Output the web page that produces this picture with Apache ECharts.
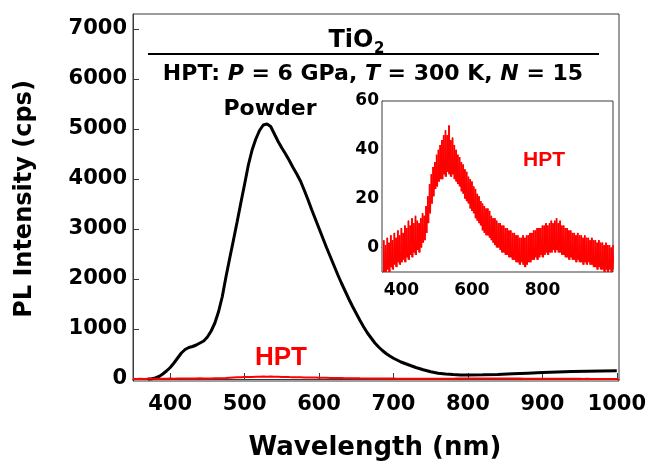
<!DOCTYPE html>
<html>
<head>
<meta charset="utf-8">
<script src="https://cdn.jsdelivr.net/npm/echarts@6/dist/echarts.min.js"></script>
<style>html,body{margin:0;padding:0;background:#fff}#c{width:649px;height:464px}</style>
</head>
<body>
<div id="c"></div>
<script>
// Powder PL spectrum (wavelength nm, intensity cps)
const powderWl = [370,375,380,385,390,395,400,405,410,415,420,425,430,435,440,445,450,455,460,465,470,475,480,485,490,495,500,505,510,515,520,525,530,535,540,545,550,555,560,565,570,575,580,585,590,595,600,605,610,615,620,625,630,635,640,645,650,655,660,665,670,675,680,685,690,695,700,710,720,730,740,750,760,770,780,790,800,820,840,860,880,900,920,940,960,980,1000];
const powderVal = [0,5,20,50,100,160,230,320,420,520,590,630,650,680,720,760,840,960,1120,1350,1650,2050,2420,2780,3150,3530,3900,4280,4580,4800,4970,5080,5100,5050,4900,4750,4620,4500,4370,4230,4100,3960,3780,3590,3390,3200,3010,2820,2630,2450,2270,2090,1920,1760,1600,1450,1310,1170,1040,920,820,720,640,570,510,460,415,340,285,230,185,145,115,100,88,82,80,84,92,104,116,128,138,148,156,162,165];
// HPT PL spectrum: upper / lower envelope of the noisy trace, every 5 nm from 350 to 1000
const hptStart = 350, hptStep = 5;
const hptUpper = [3,1,4,2,5,3,6,4,7,5,8,6,9,8,11,9,12,10,13,11,10,12,14,13,17,21,26,30,33,35,38,40,42,44,46,48,46,50,44,45,42,40,38,37,35,34,32,31,29,28,27,25,24,22,21,19,18,17,16,16,15,13,12,12,11,10,10,9,9,8,8,7,7,6,6,5,5,4,4,5,4,5,5,6,6,7,7,8,8,8,9,9,10,9,10,11,10,11,12,10,11,9,9,8,8,7,7,6,6,5,6,5,5,4,5,4,4,3,4,3,3,2,3,2,2,1,2,1,1,0,1];
const hptLower = [-10,-10,-9,-10,-8,-9,-7,-8,-6,-7,-6,-5,-6,-4,-5,-3,-4,-2,-3,-1,-2,0,2,3,6,10,14,18,21,24,25,27,28,28,30,29,31,30,29,30,28,27,26,25,23,22,20,19,18,16,15,14,12,11,10,9,7,6,5,5,4,3,2,1,0,0,-1,-2,-2,-3,-3,-4,-4,-5,-5,-6,-6,-7,-6,-7,-8,-7,-6,-6,-5,-5,-4,-5,-4,-3,-4,-3,-2,-3,-2,-2,-1,-2,-1,-2,-2,-3,-3,-4,-4,-5,-4,-5,-5,-6,-5,-6,-6,-7,-6,-7,-6,-7,-7,-8,-8,-9,-8,-9,-9,-10,-9,-10,-9,-10,-9];
const mainXTicks = [400,500,600,700,800,900,1000];
const mainYTicks = [0,1000,2000,3000,4000,5000,6000,7000];
const insetXTicks = [400,600,800];
const insetYTicks = [0,20,40,60];

const powderData = powderWl.map((w, i) => [w, powderVal[i]]);
const hptData = [];
const bandData = [];
for (let i = 0; i < hptUpper.length; i++) {
  const w = hptStart + i * hptStep;
  hptData.push([w, hptUpper[i]]);
  hptData.push([w + hptStep / 2, hptLower[i]]);
  bandData.push([w, hptLower[i], hptUpper[i]]);
}

const FONT = 'DejaVu Sans';
const axisCol = '#3a3a3a';
const plain = v => String(v);
const chart = echarts.init(document.getElementById('c'), null, {renderer: 'canvas'});
const opt = {
  animation: false,
  backgroundColor: '#fff',
  grid: [
    {left: 133, top: 14, width: 487, height: 367, show: true, borderColor: axisCol, borderWidth: 1, backgroundColor: 'transparent'},
    {left: 382, top: 101, width: 231, height: 171, show: true, borderColor: axisCol, borderWidth: 1, backgroundColor: '#fff', z: 5}
  ],
  xAxis: [
    {type: 'value', gridIndex: 0, min: 350, max: 1003,
     axisLine: {show: true, lineStyle: {color: axisCol, width: 1}},
     axisTick: {show: true, inside: true, length: 6, customValues: mainXTicks, lineStyle: {color: axisCol}},
     axisLabel: {customValues: mainXTicks, formatter: plain, fontFamily: FONT, fontWeight: 'bold', fontSize: 21, color: '#000', margin: 13},
     splitLine: {show: false}},
    {type: 'value', gridIndex: 1, min: 345, max: 1000,
     axisLine: {show: true, lineStyle: {color: axisCol, width: 1}},
     axisTick: {show: true, inside: true, length: 4, customValues: insetXTicks, lineStyle: {color: axisCol}},
     axisLabel: {customValues: insetXTicks, formatter: plain, fontFamily: FONT, fontWeight: 'bold', fontSize: 17, color: '#000', margin: 10},
     splitLine: {show: false}}
  ],
  yAxis: [
    {type: 'value', gridIndex: 0, min: -40, max: 7300,
     axisLine: {show: true, lineStyle: {color: axisCol, width: 1}},
     axisTick: {show: true, inside: true, length: 6, customValues: mainYTicks, lineStyle: {color: axisCol}},
     axisLabel: {customValues: mainYTicks, formatter: plain, fontFamily: FONT, fontWeight: 'bold', fontSize: 21, color: '#000', margin: 6},
     splitLine: {show: false}},
    {type: 'value', gridIndex: 1, min: -10, max: 60,
     axisLine: {show: true, lineStyle: {color: axisCol, width: 1}},
     axisTick: {show: true, inside: true, length: 4, customValues: insetYTicks, lineStyle: {color: axisCol}},
     axisLabel: {customValues: insetYTicks, formatter: plain, fontFamily: FONT, fontWeight: 'bold', fontSize: 17, color: '#000', margin: 3},
     splitLine: {show: false}}
  ],
  series: [
    {type: 'line', xAxisIndex: 0, yAxisIndex: 0, data: powderData, showSymbol: false, symbol: 'none',
     lineStyle: {color: '#000', width: 3}, z: 3},
    {type: 'line', xAxisIndex: 0, yAxisIndex: 0, data: hptData, showSymbol: false, symbol: 'none',
     lineStyle: {color: '#ff0000', width: 2}, z: 4},
    {type: 'custom', xAxisIndex: 1, yAxisIndex: 1, data: bandData, clip: true, z: 6,
     renderItem: function (params, api) {
       const lo = api.coord([api.value(0), api.value(1)]);
       const hi = api.coord([api.value(0), api.value(2)]);
       const w = api.size([hptStep, 0])[0];
       return {type: 'rect', shape: {x: lo[0] - w / 2, y: hi[1], width: w, height: lo[1] - hi[1]},
               style: {fill: '#ff0000'}};
     }},
    {type: 'line', xAxisIndex: 1, yAxisIndex: 1, data: hptData, showSymbol: false, symbol: 'none',
     lineStyle: {color: '#ff0000', width: 1}, z: 7}
  ],
  graphic: [
    {type: 'text', x: 351, y: 41, z: 10, style: {text: 'TiO', fontFamily: FONT, fontWeight: 'bold', fontSize: 24, fill: '#000', align: 'center', verticalAlign: 'middle'}},
    {type: 'text', x: 374, y: 49, z: 10, style: {text: '2', fontFamily: FONT, fontWeight: 'bold', fontSize: 15, fill: '#000', align: 'left', verticalAlign: 'middle'}},
    {type: 'line', z: 10, shape: {x1: 148, y1: 54, x2: 599, y2: 54}, style: {stroke: '#000', lineWidth: 2}},
    {type: 'text', x: 373, y: 74, z: 10, style: {
      text: '{b|HPT: }{i|P}{b| = 6 GPa, }{i|T}{b| = 300 K, }{i|N}{b| = 15}',
      align: 'center', verticalAlign: 'middle',
      rich: {
        b: {fontFamily: FONT, fontWeight: 'bold', fontSize: 22, fill: '#000'},
        i: {fontFamily: FONT, fontWeight: 'bold', fontStyle: 'italic', fontSize: 22, fill: '#000'}
      }}},
    {type: 'text', x: 270, y: 109, z: 10, style: {text: 'Powder', fontFamily: FONT, fontWeight: 'bold', fontSize: 22, fill: '#000', align: 'center', verticalAlign: 'middle'}},
    {type: 'text', x: 281, y: 358, z: 10, style: {text: 'HPT', fontFamily: 'Liberation Sans', fontWeight: 'bold', fontSize: 26, fill: '#ff0000', align: 'center', verticalAlign: 'middle'}},
    {type: 'text', x: 544, y: 160, z: 10, style: {text: 'HPT', fontFamily: 'Liberation Sans', fontWeight: 'bold', fontSize: 21, fill: '#ff0000', align: 'center', verticalAlign: 'middle'}},
    {type: 'text', x: 375, y: 448, z: 10, style: {text: 'Wavelength (nm)', fontFamily: FONT, fontWeight: 'bold', fontSize: 26, fill: '#000', align: 'center', verticalAlign: 'middle'}},
    {type: 'text', x: 25, y: 199, rotation: Math.PI / 2, z: 10, style: {text: 'PL Intensity (cps)', fontFamily: FONT, fontWeight: 'bold', fontSize: 24, fill: '#000', align: 'center', verticalAlign: 'middle'}}
  ]
};
chart.setOption(opt);
</script>
</body>
</html>
